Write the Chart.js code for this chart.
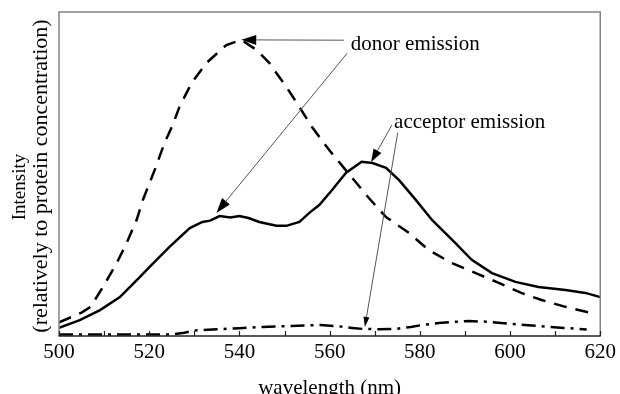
<!DOCTYPE html>
<html>
<head>
<meta charset="utf-8">
<script src="https://cdn.jsdelivr.net/npm/chart.js@4.4.1/dist/chart.umd.min.js"></script>
<style>
    html, body { margin: 0; padding: 0; background: #fff; }
    #wrap { width: 620px; height: 394px; }
</style>
</head>
<body>
<div id="wrap"><canvas id="spectra" width="620" height="394"></canvas></div>
<script>
// Values: wavelength (nm) and intensity in arbitrary units (0-100)

// donor emission (dashed)
const donorWl = [500, 505, 507, 509.7, 512.8, 515, 517.2, 518.6, 521.2, 523.4, 525.2, 526.7, 529.4, 532.7, 537.1, 540.4,
    543.8, 546.6, 550.4, 553.3, 556.1, 559.9, 565, 568.7, 572.5, 577.6, 582, 587.1, 592.4, 597.5, 602.5, 607, 612.3, 618];
const donorInt = [4.2, 7.2, 9, 15, 22.5, 28.7, 35.8, 42, 51.2, 59.6, 65.1, 70.7, 78.1, 84.3, 89.8, 91.4,
    88.3, 84.3, 76.9, 70.7, 64.5, 57.4, 48.8, 42.6, 36.7, 31.8, 26.5, 22.5, 19.4, 16.4, 13.3, 11.1, 9, 7.1];

// measured spectrum (solid)
const totalWl = [500, 504.6, 509.1, 513.5, 517.9, 520.1, 524.5, 529, 531.8, 533.5, 535.6, 538, 540, 542, 544.4, 548.2,
    550.4, 553.3, 555.5, 557.7, 560.5, 563.6, 567.1, 569.5, 572.5, 575.4, 579.1, 582.7, 587.9, 591.5, 596, 601.2,
    606.3, 612.3, 616.7, 620];
const totalInt = [2.5, 4.9, 8, 12, 18.2, 21.3, 27.5, 33.3, 35.2, 35.6, 37, 36.6, 37, 36.4, 35.2, 34,
    34, 35.2, 38, 40.4, 45, 50.3, 53.8, 53.4, 51.9, 48.1, 42, 35.8, 28.7, 23.5, 19.4, 16.7,
    15.1, 14.2, 13.3, 12];

// acceptor emission (dash-dot)
const acceptorWl = [500, 510, 520, 525, 527.8, 530, 535, 540, 545, 550, 555, 558, 562, 565, 567.2, 571, 574.7,
    578, 581, 584.2, 588, 591, 595, 600, 604, 608, 612, 617];
const acceptorInt = [0.5, 0.5, 0.5, 0.5, 1.0, 1.7, 2.1, 2.4, 2.8, 3.0, 3.3, 3.4, 3.0, 2.5, 2.2, 2.1, 2.2,
    2.8, 3.5, 4.0, 4.4, 4.6, 4.4, 3.8, 3.3, 2.9, 2.5, 2.0];

// x axis
const xMin = 500;
const xMax = 620;
const xStep = 10;      // tick marks
const xLabelStep = 20; // labelled ticks

// annotations: label anchor and arrows, in data units [wavelength, intensity]
const notes = [
    {
        text: 'donor emission',
        at: [564.7, 88.3],
        arrows: [
            { from: [563.2, 91.3], to: [540.4, 91.4], head: 15, half: 5 },
            { from: [563.9, 87.3], to: [534.9, 38.0], head: 15, half: 5 }
        ]
    },
    {
        text: 'acceptor emission',
        at: [574.3, 64.2],
        arrows: [
            { from: [573.8, 65.1], to: [569.2, 53.7], head: 13, half: 4.5 },
            { from: [575.1, 62.7], to: [567.8, 2.8], head: 10, half: 3 }
        ]
    }
];

const yTitle = ['Intensity', '(relatively to protein concentration)'];
const xTitle = 'wavelength (nm)';

const serif = "'Liberation Serif', 'Times New Roman', serif";

const toPoints = (xs, ys) => xs.map((x, i) => ({ x: x, y: ys[i] }));

// frame, inward tick marks, y title and annotations
const decorations = {
    id: 'decorations',
    afterDatasetsDraw(chart) {
        const ctx = chart.ctx;
        const area = chart.chartArea;
        const sx = chart.scales.x;
        const sy = chart.scales.y;

        ctx.save();

        // frame
        ctx.lineWidth = 1.5;
        ctx.strokeStyle = '#858585';
        ctx.beginPath();
        ctx.moveTo(area.left, area.bottom);
        ctx.lineTo(area.left, area.top);
        ctx.lineTo(area.right, area.top);
        ctx.lineTo(area.right, area.bottom);
        ctx.stroke();
        ctx.strokeStyle = '#222';
        ctx.beginPath();
        ctx.moveTo(area.left - 0.5, area.bottom);
        ctx.lineTo(area.right + 0.5, area.bottom);
        ctx.stroke();

        // tick marks pointing into the plot
        ctx.lineWidth = 1.2;
        sx.ticks.forEach(t => {
            const px = Math.round(sx.getPixelForValue(t.value)) + 0.5;
            ctx.beginPath();
            ctx.moveTo(px, area.bottom);
            ctx.lineTo(px, area.bottom - 5);
            ctx.stroke();
        });

        // y axis title, two rotated lines of different size
        ctx.fillStyle = '#000';
        ctx.textAlign = 'center';
        ctx.textBaseline = 'alphabetic';
        [[25, 187, 19], [47, 176, 22]].forEach((pos, i) => {
            ctx.save();
            ctx.font = pos[2] + 'px ' + serif;
            ctx.translate(pos[0], pos[1]);
            ctx.rotate(-Math.PI / 2);
            ctx.fillText(yTitle[i], 0, 0);
            ctx.restore();
        });

        // annotations
        ctx.font = '21px ' + serif;
        ctx.textAlign = 'left';
        notes.forEach(n => {
            ctx.fillStyle = '#000';
            ctx.fillText(n.text, sx.getPixelForValue(n.at[0]), sy.getPixelForValue(n.at[1]));
            n.arrows.forEach(a => {
                const x0 = sx.getPixelForValue(a.from[0]);
                const y0 = sy.getPixelForValue(a.from[1]);
                const x1 = sx.getPixelForValue(a.to[0]);
                const y1 = sy.getPixelForValue(a.to[1]);
                const ang = Math.atan2(y1 - y0, x1 - x0);
                const bx = x1 - a.head * Math.cos(ang);
                const by = y1 - a.head * Math.sin(ang);
                ctx.strokeStyle = '#555';
                ctx.lineWidth = 1;
                ctx.beginPath();
                ctx.moveTo(x0, y0);
                ctx.lineTo(bx, by);
                ctx.stroke();
                ctx.fillStyle = '#000';
                ctx.beginPath();
                ctx.moveTo(x1, y1);
                ctx.lineTo(bx + a.half * Math.sin(ang), by - a.half * Math.cos(ang));
                ctx.lineTo(bx - a.half * Math.sin(ang), by + a.half * Math.cos(ang));
                ctx.closePath();
                ctx.fill();
            });
        });

        ctx.restore();
    }
};

const lineStyle = {
    borderColor: '#000',
    borderWidth: 2.5,
    pointRadius: 0,
    tension: 0,
    fill: false
};

new Chart(document.getElementById('spectra').getContext('2d'), {
    type: 'line',
    data: {
        datasets: [
            Object.assign({ label: 'donor', data: toPoints(donorWl, donorInt), borderDash: [13, 9] }, lineStyle),
            Object.assign({ label: 'total', data: toPoints(totalWl, totalInt) }, lineStyle),
            Object.assign({ label: 'acceptor', data: toPoints(acceptorWl, acceptorInt), borderDash: [14, 6, 3, 6] }, lineStyle)
        ]
    },
    options: {
        responsive: false,
        animation: false,
        layout: { padding: { top: 12, right: 17, left: 0, bottom: 0 } },
        plugins: {
            legend: { display: false },
            tooltip: { enabled: false }
        },
        scales: {
            x: {
                type: 'linear',
                min: xMin,
                max: xMax,
                afterFit: scale => { scale.height = 58; },
                grid: { drawOnChartArea: false, drawTicks: false },
                border: { display: false },
                ticks: {
                    stepSize: xStep,
                    autoSkip: false,
                    maxRotation: 0,
                    padding: 4,
                    color: '#000',
                    font: { family: serif, size: 21 },
                    callback: v => (v % xLabelStep === 0 ? v : '')
                },
                title: {
                    display: true,
                    text: xTitle,
                    color: '#000',
                    font: { family: serif, size: 21, lineHeight: 1 },
                    padding: { top: 0, bottom: -5 }
                }
            },
            y: {
                min: 0,
                max: 100,
                afterFit: scale => { scale.width = 59; },
                grid: { display: false },
                border: { display: false },
                ticks: { display: false }
            }
        }
    },
    plugins: [decorations]
});
</script>
</body>
</html>
